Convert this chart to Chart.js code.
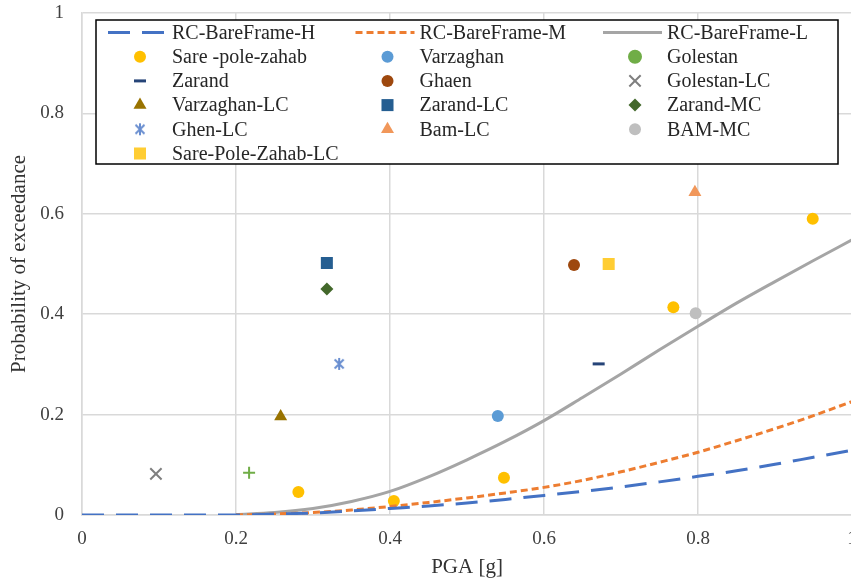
<!DOCTYPE html>
<html>
<head>
<meta charset="utf-8">
<script src="https://cdn.jsdelivr.net/npm/chart.js@4"></script>
<style>
  html, body { margin: 0; padding: 0; background: #fff; overflow: hidden; }
  #wrap { width: 851px; height: 583px; overflow: hidden; }
</style>
</head>
<body>
<div id="wrap"><canvas id="fragility" width="862" height="583"></canvas></div>
<script>
"use strict";
// PGA grid for the fragility curves
const pga = [0, 0.05, 0.1, 0.15, 0.2, 0.25, 0.3, 0.35, 0.4, 0.45, 0.5,
             0.55, 0.6, 0.65, 0.7, 0.75, 0.8, 0.85, 0.9, 0.95, 1];
const curveH = [0, 0, 0, 0, 0, 0.002, 0.004, 0.008, 0.013, 0.018, 0.024,
                0.031, 0.039, 0.047, 0.056, 0.066, 0.077, 0.088, 0.101, 0.115, 0.129];
const curveM = [null, null, null, null, 0, 0.002, 0.005, 0.010, 0.017, 0.025, 0.034,
                0.044, 0.055, 0.069, 0.086, 0.105, 0.125, 0.148, 0.172, 0.198, 0.226];
const curveL = [null, null, null, null, 0.001, 0.005, 0.013, 0.027, 0.047, 0.076, 0.110,
                0.147, 0.188, 0.234, 0.281, 0.329, 0.376, 0.422, 0.465, 0.507, 0.548];

// observed damage data
const sareX = [0.281, 0.405, 0.548, 0.768, 0.949];
const sareY = [0.046, 0.028, 0.074, 0.414, 0.590];
const varzaghanX = [0.540];
const varzaghanY = [0.197];
const golestanX = [0.217];
const golestanY = [0.084];
const zarandX = [0.671];
const zarandY = [0.301];
const ghaenX = [0.639];
const ghaenY = [0.498];
const golestanLcX = [0.096];
const golestanLcY = [0.082];
const varzaghanLcX = [0.258];
const varzaghanLcY = [0.196];
const zarandLcX = [0.318];
const zarandLcY = [0.502];
const zarandMcX = [0.318];
const zarandMcY = [0.450];
const ghenLcX = [0.334];
const ghenLcY = [0.301];
const bamLcX = [0.796];
const bamLcY = [0.643];
const bamMcX = [0.797];
const bamMcY = [0.402];
const sareLcX = [0.684];
const sareLcY = [0.500];

const axisTicks = [0, 0.2, 0.4, 0.6, 0.8, 1];

function pts(xs, ys) {
    return xs.map((x, i) => ({ x: x, y: ys[i] }));
}

// asterisk marker: an x with a vertical bar
function asterisk(color) {
    const c = document.createElement("canvas");
    c.width = 14; c.height = 14;
    const g = c.getContext("2d");
    g.strokeStyle = color;
    g.lineWidth = 2;
    g.beginPath();
    g.moveTo(2.5, 2.5); g.lineTo(11.5, 11.5);
    g.moveTo(11.5, 2.5); g.lineTo(2.5, 11.5);
    g.moveTo(7, 1); g.lineTo(7, 13);
    g.stroke();
    return c;
}

function curve(label, values, color, dash) {
    return {
        label: label,
        data: pga.map((x, i) => ({ x: x, y: values[i] })),
        showLine: true,
        borderColor: color,
        backgroundColor: color,
        borderWidth: 3,
        borderDash: dash,
        pointRadius: 0,
        cubicInterpolationMode: "monotone",
        spanGaps: false
    };
}

function marker(label, xs, ys, color, style, radius, extra) {
    return Object.assign({
        label: label,
        data: pts(xs, ys),
        pointStyle: style,
        pointRadius: radius,
        pointBackgroundColor: color,
        pointBorderColor: color,
        pointBorderWidth: 0,
        borderColor: color,
        backgroundColor: color
    }, extra || {});
}

const datasets = [
    curve("RC-BareFrame-H", curveH, "#4472C4", [22, 12]),
    curve("RC-BareFrame-M", curveM, "#ED7D31", [7, 4]),
    curve("RC-BareFrame-L", curveL, "#A5A5A5", []),
    marker("Sare -pole-zahab", sareX, sareY, "#FFC000", "circle", 6),
    marker("Varzaghan", varzaghanX, varzaghanY, "#5B9BD5", "circle", 6),
    marker("Golestan", golestanX, golestanY, "#70AD47", "cross", 6, { pointBorderWidth: 2, legendStyle: "circle" }),
    marker("Zarand", zarandX, zarandY, "#264478", "line", 6, { pointBorderWidth: 3 }),
    marker("Ghaen", ghaenX, ghaenY, "#9E480E", "circle", 6),
    marker("Golestan-LC", golestanLcX, golestanLcY, "#7F7F7F", "crossRot", 8, { pointBorderWidth: 2 }),
    marker("Varzaghan-LC", varzaghanLcX, varzaghanLcY, "#997300", "triangle", 7.5),
    marker("Zarand-LC", zarandLcX, zarandLcY, "#255E91", "rect", 8.5),
    marker("Zarand-MC", zarandMcX, zarandMcY, "#43682B", "rectRot", 6.5),
    marker("Ghen-LC", ghenLcX, ghenLcY, "#698ED0", asterisk("#698ED0"), 7),
    marker("Bam-LC", bamLcX, bamLcY, "#F1975A", "triangle", 7.5),
    marker("BAM-MC", bamMcX, bamMcY, "#BFBFBF", "circle", 6),
    marker("Sare-Pole-Zahab-LC", sareLcX, sareLcY, "#FFCD33", "rect", 8.5)
];

// boxed three-column legend inside the plot
const boxLegend = {
    id: "boxLegend",
    afterDraw(chart) {
        const ctx = chart.ctx;
        ctx.save();
        ctx.fillStyle = "#fff";
        ctx.fillRect(96, 20, 742, 144);
        ctx.strokeStyle = "#000";
        ctx.lineWidth = 1.5;
        ctx.strokeRect(96, 20, 742, 144);
        ctx.textBaseline = "middle";
        ctx.textAlign = "left";
        chart.data.datasets.forEach((ds, i) => {
            const col = i % 3;
            const row = Math.floor(i / 3);
            const x0 = 108 + col * 247.5;
            const y = 32.5 + row * 24.2;
            ctx.save();
            if (ds.showLine) {
                ctx.strokeStyle = ds.borderColor;
                ctx.lineWidth = ds.borderWidth;
                ctx.setLineDash(ds.borderDash);
                ctx.beginPath();
                ctx.moveTo(x0, y);
                ctx.lineTo(x0 + 59, y);
                ctx.stroke();
            } else {
                ctx.fillStyle = ds.pointBackgroundColor;
                ctx.strokeStyle = ds.pointBorderColor;
                ctx.lineWidth = ds.pointBorderWidth;
                Chart.helpers.drawPoint(ctx, {
                    pointStyle: ds.legendStyle || ds.pointStyle,
                    radius: ds.pointRadius,
                    borderWidth: ds.pointBorderWidth,
                    rotation: 0
                }, x0 + 32, y);
            }
            ctx.restore();
            ctx.fillStyle = "#262626";
            ctx.font = '20px "Liberation Serif"';
            ctx.fillText(ds.label, x0 + 64, y + 1);
        });
        ctx.restore();
    }
};

const tickFont = { family: "Liberation Serif", size: 19 };
const titleFont = { family: "Liberation Serif", size: 21 };
const gridColor = "#D9D9D9";
const fmt = (v) => String(Number(v.toFixed(1)));

new Chart(document.getElementById("fragility"), {
    type: "scatter",
    data: { datasets: datasets },
    options: {
        responsive: false,
        animation: false,
        layout: { padding: 0 },
        plugins: {
            legend: { display: false },
            tooltip: { enabled: false }
        },
        scales: {
            x: {
                type: "linear",
                min: 0,
                max: 1,
                afterBuildTicks: (scale) => { scale.ticks = axisTicks.map(v => ({ value: v })); },
                ticks: { font: tickFont, color: "#404040", padding: 13, callback: fmt },
                grid: { color: gridColor, lineWidth: 1.5, drawTicks: false },
                border: { color: gridColor, width: 1.5 },
                title: { display: true, text: "PGA [g]", font: titleFont, color: "#333", padding: { top: 0, bottom: 3 } },
                afterFit: (scale) => { scale.height = 68; scale.paddingRight = 5; }
            },
            y: {
                min: 0,
                max: 1,
                afterBuildTicks: (scale) => { scale.ticks = axisTicks.map(v => ({ value: v })); },
                ticks: { font: tickFont, color: "#404040", padding: 18, callback: fmt },
                grid: { color: gridColor, lineWidth: 1.5, drawTicks: false },
                border: { color: gridColor, width: 1.5 },
                title: { display: true, text: "Probability of exceedance", font: titleFont, color: "#333", padding: { top: 7, bottom: 0 } },
                afterFit: (scale) => { scale.width = 82; scale.paddingTop = 13; }
            }
        }
    },
    plugins: [boxLegend]
});
</script>
</body>
</html>
